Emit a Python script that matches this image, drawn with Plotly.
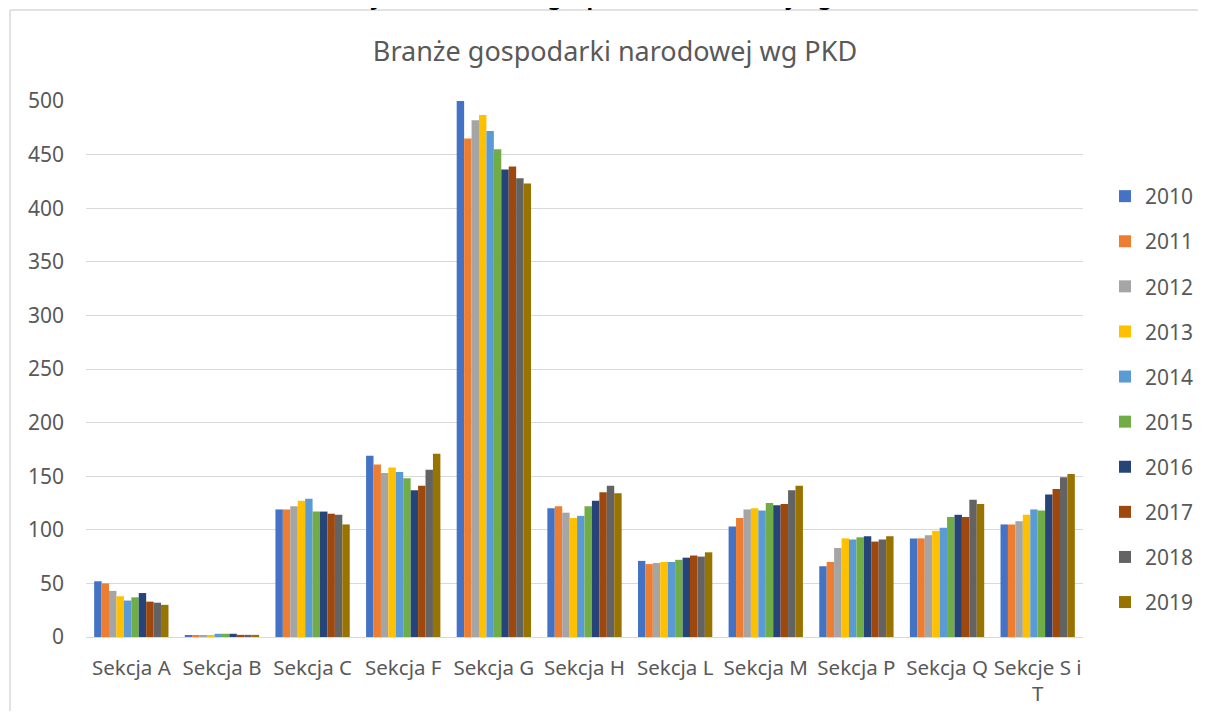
import plotly.graph_objects as go

categories = ["Sekcja A", "Sekcja B", "Sekcja C", "Sekcja F", "Sekcja G", "Sekcja H",
              "Sekcja L", "Sekcja M", "Sekcja P", "Sekcja Q", "Sekcje S i T"]
tick_labels = ["Sekcja A", "Sekcja B", "Sekcja C", "Sekcja F", "Sekcja G", "Sekcja H",
               "Sekcja L", "Sekcja M", "Sekcja P", "Sekcja Q", "Sekcje S i<br>T"]
years = ["2010", "2011", "2012", "2013", "2014", "2015", "2016", "2017", "2018", "2019"]

v2010 = [52, 1, 119, 169, 500, 120, 71, 103, 66, 92, 105]
v2011 = [50, 1, 119, 161, 465, 122, 68, 111, 70, 92, 105]
v2012 = [43, 1, 122, 153, 482, 116, 69, 119, 83, 95, 108]
v2013 = [38, 1, 127, 158, 487, 111, 70, 120, 92, 99, 114]
v2014 = [34, 3, 129, 154, 472, 113, 70, 118, 91, 102, 119]
v2015 = [37, 3, 117, 148, 455, 122, 72, 125, 93, 112, 118]
v2016 = [41, 3, 117, 137, 436, 127, 74, 123, 94, 114, 133]
v2017 = [33, 2, 115, 141, 439, 135, 76, 124, 89, 112, 138]
v2018 = [32, 2, 114, 156, 428, 141, 75, 137, 91, 128, 149]
v2019 = [30, 2, 105, 171, 423, 134, 79, 141, 94, 124, 152]

series = [v2010, v2011, v2012, v2013, v2014, v2015, v2016, v2017, v2018, v2019]
colors = ["#4472C4", "#ED7D31", "#A5A5A5", "#FFC000", "#5B9BD5",
          "#70AD47", "#264478", "#9E480E", "#636363", "#997300"]

FONT = "Noto Sans"
fig = go.Figure()
for y, vals, c in zip(years, series, colors):
    fig.add_trace(go.Bar(x=categories, y=vals, name=y, legendgroup=y,
                         marker=dict(color=c, line=dict(width=0))))

# page body has an 8px margin, so figure coords = page coords - 8
OFF = 8
W, H = 1206 - OFF, 719 - 2 * OFF
PL, PR, PT, PB = 86, 1083, 101, 637          # plot area in page pixels
L, R = PL - OFF, W - (PR - OFF)
T = PT - OFF
B = H - (PB - OFF)
pw, ph = W - L - R, H - T - B

def px(x):
    return (x - OFF - L) / pw

def py(y):
    return (H - B - (y - OFF)) / ph

fig.update_layout(
    width=W, height=H,
    margin=dict(l=L, r=R, t=T, b=B, autoexpand=False),
    paper_bgcolor="white", plot_bgcolor="white",
    barmode="group", bargap=0.18, bargroupgap=0,
    font=dict(family=FONT, color="#595959", size=21),
    title=dict(text="Branże gospodarki narodowej wg PKD",
               x=(615 - OFF) / W, xanchor="center",
               y=1 - (52 - OFF) / H, yanchor="middle",
               font=dict(family=FONT, size=27, color="#595959")),
    legend=dict(x=px(1105), xanchor="left", y=py(176), yanchor="top",
                font=dict(family=FONT, size=21, color="#595959"),
                tracegroupgap=14.8, itemwidth=30, bgcolor="rgba(0,0,0,0)"),
    xaxis=dict(tickvals=categories, ticktext=tick_labels, showgrid=False,
               showline=True, linecolor="#d9d9d9", linewidth=1, ticks="",
               ticklabelstandoff=12,
               tickfont=dict(family=FONT, size=20.5, color="#595959")),
    yaxis=dict(range=[0, 500], dtick=50, showgrid=True, gridcolor="#d9d9d9",
               gridwidth=1, zeroline=False, ticks="", ticklabelstandoff=21,
               tickfont=dict(family=FONT, size=21, color="#595959")),
)

# outer chart frame (only its top and left edges are inside the page)
fig.add_shape(type="line", xref="paper", yref="paper",
              x0=px(10), x1=px(1300), y0=py(10), y1=py(10),
              line=dict(color="#d9d9d9", width=1.5), layer="below")
fig.add_shape(type="line", xref="paper", yref="paper",
              x0=px(10), x1=px(10), y0=py(10), y1=py(800),
              line=dict(color="#d9d9d9", width=1.5), layer="below")

fig.add_annotation(text="<b>Wykres 13 Branże gospodarki narodowej wg PKD</b>",
                   xref="paper", yref="paper", x=px(615), y=py(-4), yanchor="middle",
                   xanchor="center", showarrow=False,
                   font=dict(family=FONT, size=22, color="#000000"))

fig.write_html("out.html")
